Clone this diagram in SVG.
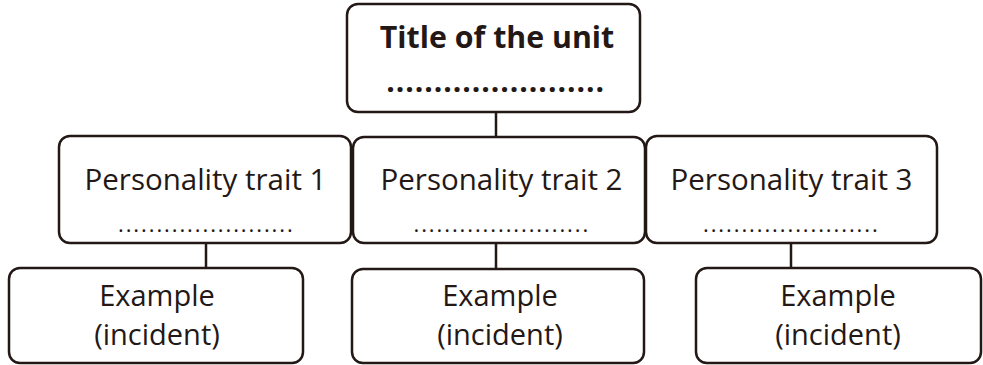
<svg xmlns="http://www.w3.org/2000/svg" width="983" height="365" viewBox="0 0 983 365">
<style>
.box{fill:#fff;stroke:#231815;stroke-width:2.5}
.ln{stroke:#231815;stroke-width:2.5;fill:none}
text{font-family:"Open Sans","Noto Sans",sans-serif;fill:#231815}
.t{font-size:29.5px;text-anchor:middle}
.e{font-size:29px;text-anchor:middle}
.h{font-size:30.3px;font-weight:bold;text-anchor:middle}
.d{font-size:22px;letter-spacing:1.9px}
.hd{font-size:30px;font-weight:bold;letter-spacing:0.95px}
</style>
<rect width="983" height="365" fill="#fff"/>
<g id="connectors">
<line class="ln" x1="496" y1="112" x2="496" y2="137"/>
<line class="ln" x1="206" y1="243" x2="206" y2="268"/>
<line class="ln" x1="496" y1="243" x2="496" y2="269"/>
<line class="ln" x1="791" y1="243" x2="791" y2="268"/>
</g>
<g id="title">
<rect class="box" x="347" y="4" width="293" height="108" rx="11"/>
<text class="h" x="497" y="48">Title of the unit</text>
<text class="hd" x="386.3" y="91.5">.......................</text>
</g>
<g id="trait1">
<rect class="box" x="59" y="136" width="292" height="107" rx="11"/>
<text class="t" x="205.5" y="190">Personality trait 1</text>
<text class="d" x="118" y="232.2">.......................</text>
</g>
<g id="trait2">
<rect class="box" x="353" y="137" width="292" height="106" rx="11"/>
<text class="t" x="501.5" y="190">Personality trait 2</text>
<text class="d" x="413.5" y="232.2">.......................</text>
</g>
<g id="trait3">
<rect class="box" x="646" y="136" width="291" height="107" rx="11"/>
<text class="t" x="791.5" y="190">Personality trait 3</text>
<text class="d" x="703" y="232.2">.......................</text>
</g>
<g id="example1">
<rect class="box" x="9" y="268" width="294" height="95" rx="11"/>
<text class="e" x="157" y="305.5">Example</text>
<text class="e" x="157" y="345">(incident)</text>
</g>
<g id="example2">
<rect class="box" x="352" y="269" width="292" height="94" rx="11"/>
<text class="e" x="500" y="305.5">Example</text>
<text class="e" x="500" y="345">(incident)</text>
</g>
<g id="example3">
<rect class="box" x="696" y="268" width="285" height="95" rx="11"/>
<text class="e" x="838" y="305.5">Example</text>
<text class="e" x="838" y="345">(incident)</text>
</g>
</svg>
